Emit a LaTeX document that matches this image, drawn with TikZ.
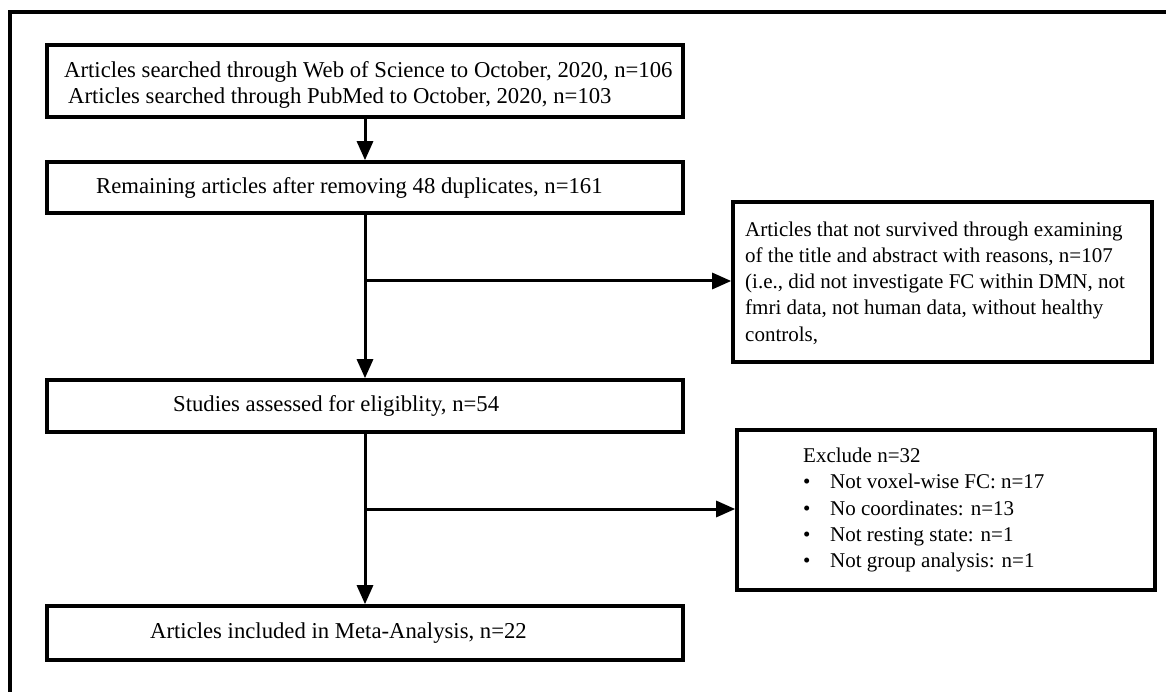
\documentclass[tikz,border=0pt]{standalone}
\usepackage{fontspec}
\setmainfont{Liberation Serif}
\usetikzlibrary{arrows.meta}
\begin{document}
\begin{tikzpicture}[x=1pt,y=-1pt,
  box/.style={draw=black,line width=3.6pt,fill=white,inner sep=0pt},
  conn/.style={line width=3pt,-{Triangle[length=19pt,width=16pt]}},
  maintxt/.style={anchor=west,inner sep=0pt,align=left,font=\fontsize{22.7}{26}\selectfont},
  sidetxt/.style={anchor=west,inner sep=0pt,align=left,font=\fontsize{21}{26.2}\selectfont},
  frame/.style={line width=3.8pt}]
\useasboundingbox (0,0) rectangle (1166,692);
\fill[white] (0,0) rectangle (1166,692);
% outer frame (cut at right and bottom)
\coordinate (fbl) at (10,700);
\coordinate (ftl) at (10,12);
\coordinate (ftr) at (1175,12);
\draw[frame] (fbl) -- (ftl) -- (ftr);
% main boxes
\node[box,minimum width=636pt,minimum height=72pt] (b1) at (365,81) {};
\node[box,minimum width=636pt,minimum height=51pt] (b2) at (365,187.5) {};
\node[box,minimum width=636pt,minimum height=52pt] (b3) at (365,406) {};
\node[box,minimum width=636pt,minimum height=54pt] (b4) at (365,633) {};
% side boxes
\node[box,minimum width=419pt,minimum height=160pt] (r1) at (942.5,282) {};
\node[box,minimum width=418pt,minimum height=160pt] (r2) at (946,510) {};
% texts
\node[maintxt] (t1) at (64,85) {Articles searched through Web of Science to October, 2020, n=106\\\hspace*{4pt}Articles searched through PubMed to October, 2020, n=103};
\node[maintxt] (t2) at (96,187.5) {Remaining articles after removing 48 duplicates, n=161};
\node[maintxt] (t3) at (173,406) {Studies assessed for eligiblity, n=54};
\node[maintxt] (t4) at (150,633) {Articles included in Meta-Analysis, n=22};
\node[sidetxt] (s1) at (745,283) {Articles that not survived through examining\\of the title and abstract with reasons, n=107\\(i.e., did not investigate FC within DMN, not\\fmri data, not human data, without healthy\\controls,};
\node[sidetxt] (s2) at (803,510) {Exclude n=32\\\makebox[27pt][l]{\textbullet}Not voxel-wise FC: n=17\\\makebox[27pt][l]{\textbullet}No coordinates: n=13\\\makebox[27pt][l]{\textbullet}Not resting state: n=1\\\makebox[27pt][l]{\textbullet}Not group analysis: n=1};
% connectors
\coordinate (j1) at (365,281);
\coordinate (j2) at (365,509);
\draw[conn] (b1) -- (b2);
\draw[conn] (b2) -- (b3);
\draw[conn] (b3) -- (b4);
\draw[conn] (j1) -- (j1 -| r1.west);
\draw[conn] (j2) -- (j2 -| r2.west);
\end{tikzpicture}
\end{document}
